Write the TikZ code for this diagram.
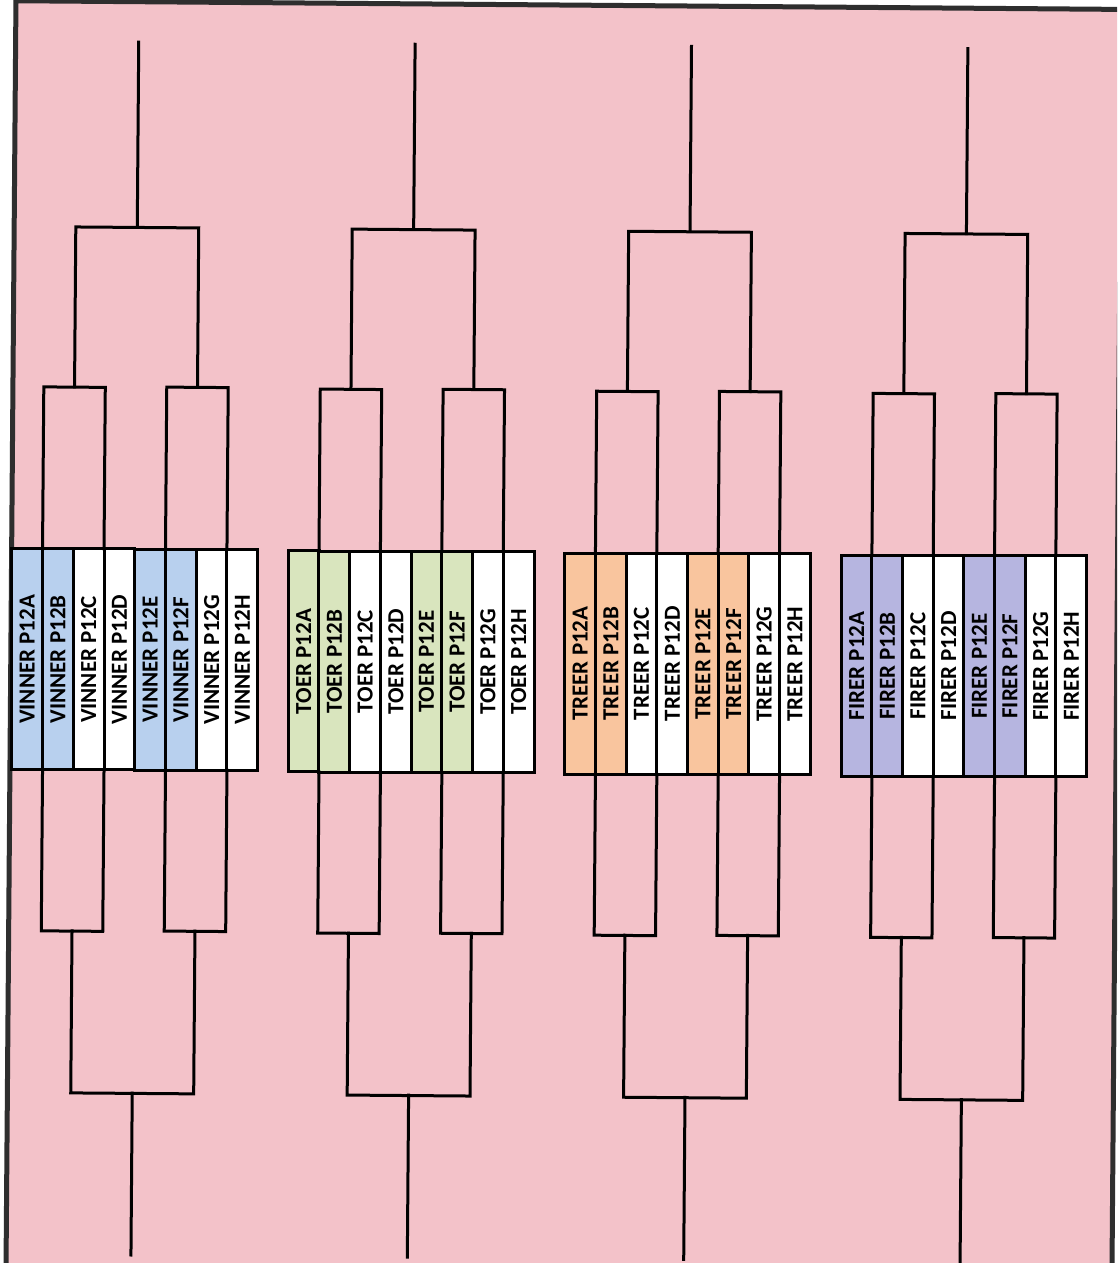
\documentclass[tikz,border=0pt]{standalone}
\usepackage{fontspec}
\usepackage{graphicx}
\setmainfont{Carlito}
\usetikzlibrary{positioning}
\definecolor{cpink}{HTML}{F3C2C9}
\definecolor{cblue}{HTML}{B8D0EE}
\definecolor{cgreen}{HTML}{D9E5BE}
\definecolor{corange}{HTML}{F9C59E}
\definecolor{cpurple}{HTML}{B6B5E0}
\definecolor{cframe}{HTML}{2E2E2E}
\tikzset{
  every picture/.style={x=1pt, y=1pt, line width=3pt},
  cell/.style={draw=black, fill=#1, minimum width=30.75pt, minimum height=221pt, inner sep=0pt, outer sep=0pt, font=\fontsize{23}{25}\selectfont\bfseries},
  cell/.default=white,
  bracket/.style={draw=black, line width=3pt, line cap=rect},
  frame/.style={draw=cframe, line width=5pt},
}

\begin{document}
\begin{tikzpicture}
  \useasboundingbox (0,0) rectangle (1117,1263);
  \clip (0,0) rectangle (1117,1263);
  \fill[white] (0,0) rectangle (1117,1263);
  \begin{scope}[rotate around={-0.45:(558.5,631.5)}]
  \fill[cpink] (11,-40) rectangle (1117,1258);
  \draw[frame] (11,-40) -- (11,1258) -- (1117,1258) -- (1117,-40);

  % VINNER
  \node[cell=cblue] (v1) at (27.375,599.5) {\rotatebox{90}{VINNER P12A}};
  \node[cell=cblue, right=0pt of v1] (v2) {\rotatebox{90}{VINNER P12B}};
  \node[cell, right=0pt of v2] (v3) {\rotatebox{90}{VINNER P12C}};
  \node[cell, right=0pt of v3] (v4) {\rotatebox{90}{VINNER P12D}};
  \node[cell=cblue, right=0pt of v4] (v5) {\rotatebox{90}{VINNER P12E}};
  \node[cell=cblue, right=0pt of v5] (v6) {\rotatebox{90}{VINNER P12F}};
  \node[cell, right=0pt of v6] (v7) {\rotatebox{90}{VINNER P12G}};
  \node[cell, right=0pt of v7] (v8) {\rotatebox{90}{VINNER P12H}};
  \draw[bracket] (v1.north east) -- ++(0,162) -| (v3.north east);
  \draw[bracket] (v5.north east) -- ++(0,162) -| (v7.north east);
  \draw[bracket] ([yshift=162pt]v2.north east) -- ++(0,160) -| ([yshift=162pt]v6.north east);
  \draw[bracket] ([yshift=322pt]v4.north east) -- ++(0,185);
  \draw[bracket] (v1.south east) -- ++(0,-161) -| (v3.south east);
  \draw[bracket] (v5.south east) -- ++(0,-161) -| (v7.south east);
  \draw[bracket] ([yshift=-161pt]v2.south east) -- ++(0,-162) -| ([yshift=-161pt]v6.south east);
  \draw[bracket] ([yshift=-323pt]v4.south east) -- ++(0,-162);

  % TOER
  \node[cell=cgreen] (t1) at (303.875,599.5) {\rotatebox{90}{TOER P12A}};
  \node[cell=cgreen, right=0pt of t1] (t2) {\rotatebox{90}{TOER P12B}};
  \node[cell, right=0pt of t2] (t3) {\rotatebox{90}{TOER P12C}};
  \node[cell, right=0pt of t3] (t4) {\rotatebox{90}{TOER P12D}};
  \node[cell=cgreen, right=0pt of t4] (t5) {\rotatebox{90}{TOER P12E}};
  \node[cell=cgreen, right=0pt of t5] (t6) {\rotatebox{90}{TOER P12F}};
  \node[cell, right=0pt of t6] (t7) {\rotatebox{90}{TOER P12G}};
  \node[cell, right=0pt of t7] (t8) {\rotatebox{90}{TOER P12H}};
  \draw[bracket] (t1.north east) -- ++(0,162) -| (t3.north east);
  \draw[bracket] (t5.north east) -- ++(0,162) -| (t7.north east);
  \draw[bracket] ([yshift=162pt]t2.north east) -- ++(0,160) -| ([yshift=162pt]t6.north east);
  \draw[bracket] ([yshift=322pt]t4.north east) -- ++(0,185);
  \draw[bracket] (t1.south east) -- ++(0,-161) -| (t3.south east);
  \draw[bracket] (t5.south east) -- ++(0,-161) -| (t7.south east);
  \draw[bracket] ([yshift=-161pt]t2.south east) -- ++(0,-162) -| ([yshift=-161pt]t6.south east);
  \draw[bracket] ([yshift=-323pt]t4.south east) -- ++(0,-162);

  % TREER
  \node[cell=corange] (r1) at (580.375,599.5) {\rotatebox{90}{TREER P12A}};
  \node[cell=corange, right=0pt of r1] (r2) {\rotatebox{90}{TREER P12B}};
  \node[cell, right=0pt of r2] (r3) {\rotatebox{90}{TREER P12C}};
  \node[cell, right=0pt of r3] (r4) {\rotatebox{90}{TREER P12D}};
  \node[cell=corange, right=0pt of r4] (r5) {\rotatebox{90}{TREER P12E}};
  \node[cell=corange, right=0pt of r5] (r6) {\rotatebox{90}{TREER P12F}};
  \node[cell, right=0pt of r6] (r7) {\rotatebox{90}{TREER P12G}};
  \node[cell, right=0pt of r7] (r8) {\rotatebox{90}{TREER P12H}};
  \draw[bracket] (r1.north east) -- ++(0,162) -| (r3.north east);
  \draw[bracket] (r5.north east) -- ++(0,162) -| (r7.north east);
  \draw[bracket] ([yshift=162pt]r2.north east) -- ++(0,160) -| ([yshift=162pt]r6.north east);
  \draw[bracket] ([yshift=322pt]r4.north east) -- ++(0,185);
  \draw[bracket] (r1.south east) -- ++(0,-161) -| (r3.south east);
  \draw[bracket] (r5.south east) -- ++(0,-161) -| (r7.south east);
  \draw[bracket] ([yshift=-161pt]r2.south east) -- ++(0,-162) -| ([yshift=-161pt]r6.south east);
  \draw[bracket] ([yshift=-323pt]r4.south east) -- ++(0,-162);

  % FIRER
  \node[cell=cpurple] (f1) at (856.875,599.5) {\rotatebox{90}{FIRER P12A}};
  \node[cell=cpurple, right=0pt of f1] (f2) {\rotatebox{90}{FIRER P12B}};
  \node[cell, right=0pt of f2] (f3) {\rotatebox{90}{FIRER P12C}};
  \node[cell, right=0pt of f3] (f4) {\rotatebox{90}{FIRER P12D}};
  \node[cell=cpurple, right=0pt of f4] (f5) {\rotatebox{90}{FIRER P12E}};
  \node[cell=cpurple, right=0pt of f5] (f6) {\rotatebox{90}{FIRER P12F}};
  \node[cell, right=0pt of f6] (f7) {\rotatebox{90}{FIRER P12G}};
  \node[cell, right=0pt of f7] (f8) {\rotatebox{90}{FIRER P12H}};
  \draw[bracket] (f1.north east) -- ++(0,162) -| (f3.north east);
  \draw[bracket] (f5.north east) -- ++(0,162) -| (f7.north east);
  \draw[bracket] ([yshift=162pt]f2.north east) -- ++(0,160) -| ([yshift=162pt]f6.north east);
  \draw[bracket] ([yshift=322pt]f4.north east) -- ++(0,185);
  \draw[bracket] (f1.south east) -- ++(0,-161) -| (f3.south east);
  \draw[bracket] (f5.south east) -- ++(0,-161) -| (f7.south east);
  \draw[bracket] ([yshift=-161pt]f2.south east) -- ++(0,-162) -| ([yshift=-161pt]f6.south east);
  \draw[bracket] ([yshift=-323pt]f4.south east) -- ++(0,-162);
  \end{scope}
\end{tikzpicture}
\end{document}
